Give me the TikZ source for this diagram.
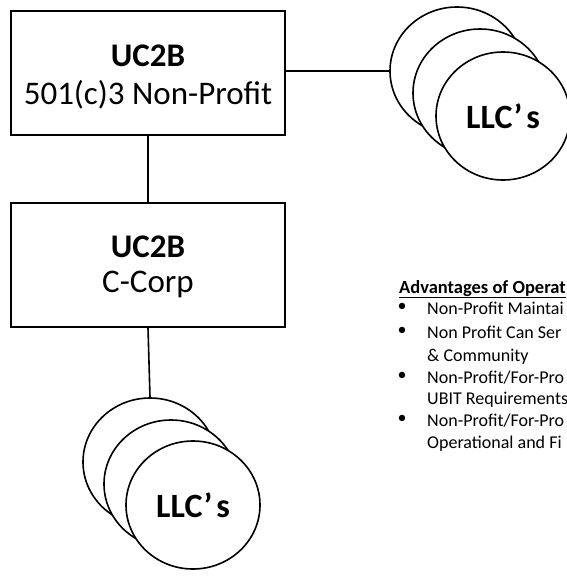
\documentclass[tikz,border=0pt]{standalone}
\usepackage{fontspec}
\setmainfont{Carlito}
\usetikzlibrary{shapes.geometric}
\begin{document}
\begin{tikzpicture}[x=1pt,y=-1pt,
  box/.style={draw, line width=1.6pt, minimum width=274pt, minimum height=124pt, inner sep=0pt},
  boxtxt/.style={inner sep=0pt, align=center, font=\fontsize{33}{38}\selectfont},
  llc/.style={draw, ellipse, fill=white, line width=1.6pt, minimum width=134pt, minimum height=128pt, inner sep=0pt, font=\fontsize{34}{40}\selectfont\bfseries},
  conn/.style={line width=1.6pt},
  adv/.style={anchor=base west, inner sep=0pt, font=\fontsize{18}{22}\selectfont},
  bul/.style={inner sep=0pt, font=\fontsize{18}{22}\selectfont}]
\useasboundingbox (0,0) rectangle (567,576);
% boxes
\node[box] (np) at (148,73) {};
\node[boxtxt] (npt) at (148,77) {\textbf{UC2B}\\501(c)3 Non-Profit};
\node[box] (cc) at (148,265) {};
\node[boxtxt] (cct) at (148,267) {\textbf{UC2B}\\[-3pt]C-Corp};
% top LLC stack
\node[llc] (t1) at (457,71) {};
\node[llc] (t2) at (480,93) {};
\node[llc] (t3) at (503,116) {LLC’\kern4pt s};
% bottom LLC stack
\node[llc] (b1) at (150,462) {};
\node[llc] (b2) at (171,484) {};
\node[llc] (b3) at (193,505) {LLC’\kern4pt s};
% connectors
\draw[conn] (np.east |- t1.west) -- (t1.west);
\draw[conn] (np.south) -- (cc.north);
\draw[conn] (cc.south) -- (b1.north);
% advantages text
\node[adv, font=\fontsize{18.5}{22}\selectfont] (h) at (399,293) {\textbf{\underline{Advantages of Operat}}};
\node[bul] (k1) at (402,307) {•};
\node[adv] (l1) at (427,314) {Non-Profit Maintai};
\node[bul] (k2) at (402,331) {•};
\node[adv] (l2) at (427,338) {Non Profit Can Ser};
\node[adv] (l3) at (427,361) {\& Community};
\node[bul] (k3) at (402,376) {•};
\node[adv] (l4) at (427,383) {Non-Profit/For-Pro};
\node[adv] (l5) at (427,404) {UBIT Requirements};
\node[bul] (k4) at (402,419) {•};
\node[adv] (l6) at (427,426) {Non-Profit/For-Pro};
\node[adv] (l7) at (427,448) {Operational and Fi};
\end{tikzpicture}
\end{document}
